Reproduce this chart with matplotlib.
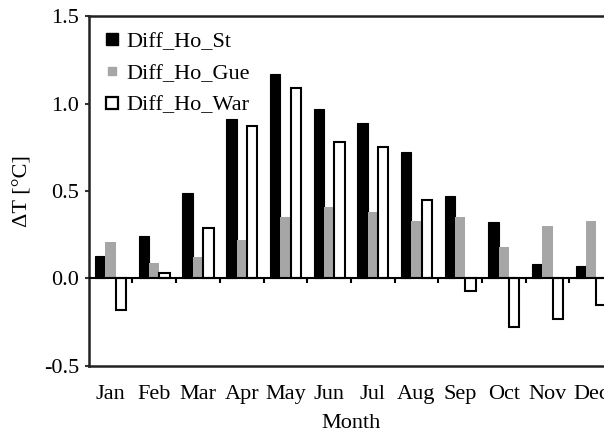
import numpy as np
import matplotlib.pyplot as plt
from matplotlib.lines import Line2D

months = ['Jan', 'Feb', 'Mar', 'Apr', 'May', 'Jun',
          'Jul', 'Aug', 'Sep', 'Oct', 'Nov', 'Dec']
diff_ho_st = [0.13, 0.24, 0.49, 0.91, 1.17, 0.97, 0.89, 0.72, 0.47, 0.32, 0.08, 0.07]
diff_ho_gue = [0.21, 0.09, 0.12, 0.22, 0.35, 0.41, 0.38, 0.33, 0.35, 0.18, 0.30, 0.33]
diff_ho_war = [-0.18, 0.03, 0.29, 0.87, 1.09, 0.78, 0.75, 0.45, -0.07, -0.28, -0.23, -0.15]
series_names = ['Diff_Ho_St', 'Diff_Ho_Gue', 'Diff_Ho_War']

plt.rcParams['font.family'] = ['Liberation Serif', 'DejaVu Serif']
plt.rcParams['font.size'] = 16

fig = plt.figure(figsize=(6.04, 4.34), dpi=100)
ax = fig.add_axes([0.147, 0.157, 0.868, 0.806])

x = np.arange(len(months))
w = 0.237
ax.bar(x - w, diff_ho_st, w, color='black', edgecolor='black', linewidth=0.8)
ax.bar(x, diff_ho_gue, w, color='#a6a6a6', edgecolor='#a6a6a6', linewidth=0.0)
ax.bar(x + w, diff_ho_war, w, color='white', edgecolor='black', linewidth=1.5)

ax.set_xlim(-0.5, len(months) - 0.5)
ax.set_ylim(-0.5, 1.5)
ax.set_yticks([-0.5, 0.0, 0.5, 1.0, 1.5])
ax.set_yticklabels(['-0.5', '0.0', '0.5', '1.0', '1.5'])
ax.set_xticks(x)
ax.set_xticklabels(months)
ax.tick_params(axis='x', length=0, pad=14)
ax.tick_params(axis='y', length=3, width=1.5, color='#333333', pad=4)

# zero line with category separators
ax.axhline(0, color='black', linewidth=1.5, zorder=3)
ax.vlines(x[1:] - 0.5, -0.028, 0, color='black', linewidth=1.5, zorder=3)

for s in ax.spines.values():
    s.set_linewidth(1.8)
    s.set_color('#222222')

ax.set_ylabel('ΔT [°C]', labelpad=8)
ax.set_xlabel('Month', labelpad=7)

handles = [
    Line2D([], [], ls='none', marker='s', markersize=9, color='black'),
    Line2D([], [], ls='none', marker='s', markersize=6, color='#a6a6a6'),
    Line2D([], [], ls='none', marker='s', markersize=8, markerfacecolor='white',
           markeredgecolor='black', markeredgewidth=1.6),
]
ax.legend(handles, series_names, loc='upper left', frameon=False,
          handlelength=0.7, handletextpad=0.3, labelspacing=0.5,
          borderaxespad=0.3, borderpad=0.4)

fig.savefig('out.png', dpi=100)
